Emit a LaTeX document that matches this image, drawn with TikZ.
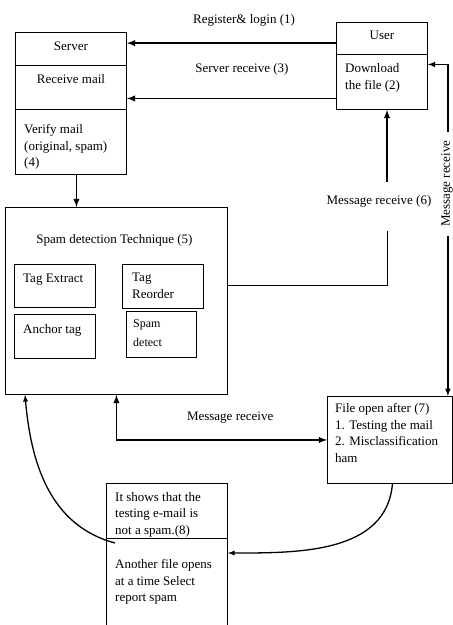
\documentclass[tikz,border=0pt]{standalone}
\usepackage{fontspec}
\setmainfont{Liberation Serif}
\usetikzlibrary{positioning}

\tikzset{
  cell/.style={draw, line width=0.9pt, anchor=north west, inner sep=0pt},
  txt/.style={inner sep=0pt, align=left, anchor=north west},
  ctxt/.style={inner sep=0pt, anchor=base},
  lbl/.style={inner sep=0pt},
  arr/.style={line width=1.8pt},
}

\begin{document}
\begin{tikzpicture}[x=1pt, y=-1pt, >=latex, font=\fontsize{13}{16.7}\selectfont]
\useasboundingbox (0,0) rectangle (453,625);

% server
\node[cell, minimum width=111pt, minimum height=33pt] (srvT) at (15,32) {};
\node[cell, minimum width=111pt, minimum height=44pt] (srvR) at (15,65) {};
\node[cell, minimum width=111pt, minimum height=65pt] (srvV) at (15,109) {};
\node[ctxt] (tSrv) at ([shift={(0,18.5)}]srvT.north) {Server};
\node[ctxt] (tRcv) at ([shift={(0,18.5)}]srvR.north) {Receive mail};
\node[txt] (tVfy) at ([shift={(9,15)}]srvV.north west) {Verify mail\\(original, spam)\\(4)};

% user
\node[cell, minimum width=91pt, minimum height=32pt] (usrT) at (336,22) {};
\node[cell, minimum width=91pt, minimum height=55pt] (usrD) at (336,54) {};
\node[ctxt] (tUsr) at ([shift={(0,17)}]usrT.north) {User};
\node[txt] (tDl) at ([shift={(9,9.5)}]usrD.north west) {Download\\the file (2)};

% spam detection
\node[cell, minimum width=222pt, minimum height=187pt] (spam) at (5,207) {};
\node[ctxt] (tSpam) at ([shift={(-2,36)}]spam.north) {Spam detection Technique (5)};
\node[cell, minimum width=81pt, minimum height=43pt] (ext) at (14,264) {};
\node[cell, minimum width=81pt, minimum height=44pt] (anc) at (14,314) {};
\node[cell, minimum width=81pt, minimum height=44pt] (reo) at (122,264) {};
\node[cell, minimum width=70pt, minimum height=46pt] (det) at (126,311) {};
\node[txt] (tExt) at ([shift={(9,10)}]ext.north west) {Tag Extract};
\node[txt] (tAnc) at ([shift={(9,10)}]anc.north west) {Anchor tag};
\node[txt] (tReo) at ([shift={(10,9)}]reo.north west) {Tag\\Reorder};
\node[txt, font=\fontsize{12}{19}\selectfont] (tDet) at ([shift={(7,8.7)}]det.north west) {Spam\\detect};

% file open
\node[cell, minimum width=125pt, minimum height=87pt] (fop) at (327,396) {};
\node[txt] (tFop) at ([shift={(8,7)}]fop.north west) {File open after (7)\\1. Testing the mail\\2. Misclassification\\ham};

% result
\node[cell, minimum width=121pt, minimum height=55pt] (botA) at (106,483) {};
\node[cell, minimum width=121pt, minimum height=95pt] (botB) at (106,538) {};
\node[txt] (tShw) at ([shift={(9,9)}]botA.north west) {It shows that the\\testing e-mail is\\not a spam.(8)};
\node[txt] (tAno) at ([shift={(9,21)}]botB.north west) {Another file opens\\at a time Select\\report spam};

% connectors
\draw[->, arr] ([yshift=-4.7pt]usrT.west) -- ([yshift=-4.7pt]usrT.west -| srvT.east)
  node[lbl, pos=0.44, above=15.5pt] (lReg) {Register\& login (1)};
\draw[->, arr] ([yshift=-16.5pt]usrD.west) -- ([yshift=-16.5pt]usrD.west -| srvR.east)
  node[lbl, pos=0.45, above=22pt] (lSrv) {Server receive (3)};
\draw[->, arr] ([xshift=5.5pt]srvV.south) -- ([xshift=5.5pt]srvV.south |- spam.north);

\coordinate (m6a) at (387,231);
\coordinate (m6b) at (387,182);
\draw[line width=0.9pt] ([yshift=15.5pt]spam.east) -| (m6a);
\draw[->, arr] (m6b) -- (m6b |- usrD.south);
\node[ctxt] (lM6) at (379,204) {Message receive (6)};

\draw[<->, line width=1.5pt] ([yshift=17.5pt]usrD.east) -| ([xshift=-5pt]fop.north east)
  node[pos=0.68, rotate=90, fill=white, inner xsep=9pt, inner ysep=1pt, yshift=1pt] (lMr) {Message receive};

\draw[<->, arr] (spam.south) |- (fop.west)
  node[lbl, pos=0.77, above=16pt] (lMb) {Message receive};

\draw[->, line width=1.3pt] ([shift={(9,5)}]botB.north west) to[out=165, in=-85] ([xshift=20pt]spam.south west);
\draw[->, line width=1.3pt] ([xshift=2.5pt]fop.south) to[out=-95, in=0] ([yshift=-15pt]botB.north east);

\end{tikzpicture}
\end{document}
